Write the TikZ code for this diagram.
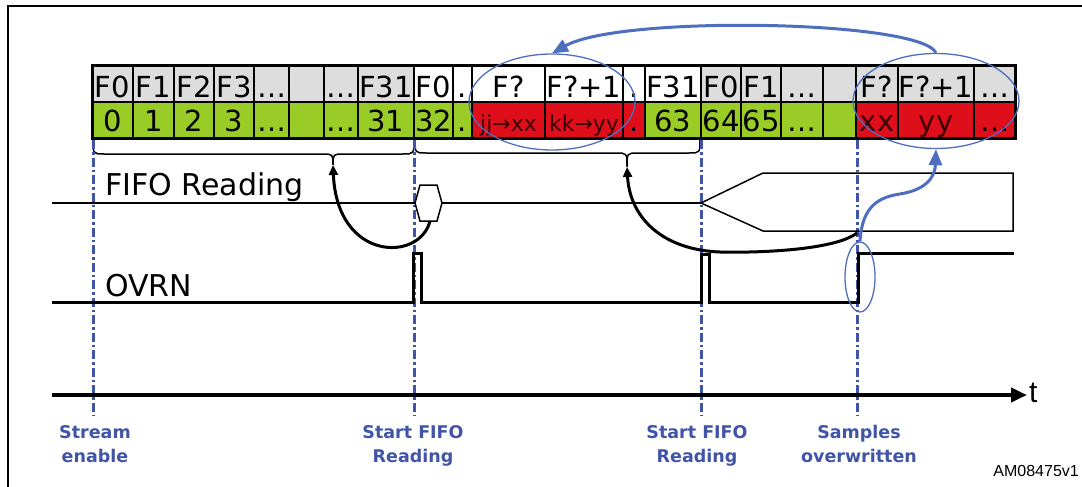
\documentclass[tikz,border=0pt]{standalone}
\usepackage{fontspec}
\setmainfont{DejaVu Sans}
\newfontfamily\arialfont{Liberation Sans}
\usepackage{tikz}
\usetikzlibrary{shapes.geometric,arrows.meta}
\definecolor{cgrey}{RGB}{221,221,221}
\definecolor{cgreen}{RGB}{154,204,40}
\definecolor{cred}{RGB}{222,14,26}
\definecolor{mkblue}{RGB}{64,84,168}
\definecolor{ovblue}{RGB}{78,110,192}
\definecolor{redtxt}{RGB}{60,0,0}
\newcommand\redsmall{\color{redtxt}\fontsize{22}{22}\selectfont}

\begin{document}
\begin{tikzpicture}[x=1pt,y=-1pt,
	cellfont/.style={font=\fontsize{29}{29}\selectfont, inner sep=0pt, anchor=base},
	sigfont/.style={font=\fontsize{30}{30}\selectfont, inner sep=0pt, anchor=base west},
	markline/.style={mkblue, line width=3pt, dash pattern=on 9pt off 3pt on 2.5pt off 3pt},
	evtlabel/.style={mkblue, font=\bfseries\fontsize{17.5}{24}\selectfont, align=center, anchor=north, inner sep=0pt},
	bluering/.style={draw=ovblue, line width=1.3pt, ellipse, inner sep=0pt}]
			\useasboundingbox (0,0) rectangle (1082,487);
			% frame
			\draw[line width=2.5pt] (8,487) -- (8,6) -- (1082,6);
			% FIFO cells
			\foreach \xa/\xb/\cola/\txta/\colb/\txtb [count=\i] in {
				92/133/cgrey/F0/cgreen/0,
				133/174/cgrey/F1/cgreen/1,
				174/214/cgrey/F2/cgreen/2,
				214/254/cgrey/F3/cgreen/3,
				254/289/cgrey/…/cgreen/…,
				289/324/cgrey/{}/cgreen/{},
				324/358/cgrey/…/cgreen/…,
				358/414/cgrey/F31/cgreen/31,
				414/453/white/F0/cgreen/32,
				453/472/white/./cgreen/.,
				472/545/white/F?/cred/{\redsmall jj→xx},
				545/623/white/F?+1/cred/{\redsmall kk→yy},
				623/645/white/./cred/.,
				645/701/white/F31/cgreen/63,
				701/741/cgrey/F0/cgreen/64,
				741/781/cgrey/F1/cgreen/65,
				781/823/cgrey/…/cgreen/…,
				823/856/cgrey/{}/cgreen/{},
				856/898/cgrey/F?/cred/{\color{redtxt}xx},
				898/974/cgrey/F?+1/cred/{\color{redtxt}yy},
				974/1015/cgrey/…/cred/…}
			{
				\draw[fill=\cola, line width=1.5pt] (\xa,66) rectangle (\xb,102);
				\draw[fill=\colb, line width=1.5pt] (\xa,102) rectangle (\xb,138);
				\node[cellfont] (top\i) at ({(\xa+\xb)/2},97) {\txta};
				\node[cellfont] (bot\i) at ({(\xa+\xb)/2},131) {\txtb};
			}
			\draw[line width=3pt] (92,66) rectangle (1015,138);
			% braces
			\coordinate (tipA) at (333,165);
			\coordinate (tipB) at (627,167);
			\draw[line width=1.5pt] (93,139) .. controls (93,154) .. (104,154) -- (322,154) .. controls (333,154) .. (tipA) .. controls (333,154) .. (344,154) -- (403,154) .. controls (414,154) .. (414,139);
			\draw[line width=1.5pt] (415,139) .. controls (415,153) .. (426,153) -- (616,153) .. controls (627,153) .. (tipB) .. controls (627,153) .. (638,153) -- (689,153) .. controls (700,153) .. (700,139);
			% event markers
			\draw[markline] (93,140) -- (93,416);
			\draw[markline] (414,140) -- (414,416);
			\draw[markline] (701,140) -- (701,416);
			\draw[markline] (857,140) -- (857,416);
			\node[evtlabel] (evStream) at (95,425) {Stream\\enable};
			\node[evtlabel] (evReadA) at (413,425) {Start FIFO\\Reading};
			\node[evtlabel] (evReadB) at (697,425) {Start FIFO\\Reading};
			\node[evtlabel] (evOver) at (859,425) {Samples\\overwritten};
			% FIFO Reading signal
			\node[sigfont] (lblFifo) at (105,195) {FIFO Reading};
			\coordinate (hexL) at (415,203);
			\coordinate (hexR) at (442,203);
			\coordinate (hexB) at (430,221);
			\coordinate (busS) at (701,203);
			\draw[line width=2.5pt] (52,203) -- (hexL);
			\draw[line width=1.5pt, fill=white] (hexL) -- (420,185) -- (437,185) -- (hexR) -- (437,221) -- (420,221) -- cycle;
			\draw[line width=2.5pt] (hexR) -- (busS);
			\draw[line width=1.5pt] (busS) -- (763,173) -- (1013,173) -- (1013,231) -- (763,231) -- cycle;
			% OVRN signal
			\node[sigfont] (lblOvrn) at (105,296) {OVRN};
			\draw[line width=3pt] (52,302) -- (413,302) -- (413,253) -- (421,253) -- (421,302) -- (701,302) -- (701,254) -- (709,254) -- (709,302) -- (858,302) -- (858,253) -- (1014,253);
			% overwritten samples
			\node[bluering, minimum width=166pt, minimum height=96pt] (ovA) at (552,102) {};
			\node[bluering, minimum width=166pt, minimum height=95pt] (ovB) at (936,101) {};
			\node[bluering, minimum width=30pt, minimum height=70pt] (ovC) at (860,277) {};
			\draw[ovblue, line width=3pt, -{Triangle[length=16pt,width=13pt]}] (ovB.north) .. controls (920,20) and (620,15) .. (ovA.north);
			\draw[ovblue, line width=3pt, -{Triangle[length=16pt,width=13pt]}] (ovC.north) .. controls (862,205) and (880,197) .. (900,194) .. controls (925,190) and (935,178) .. (ovB.south);
			% reading arrows
			\coordinate (ovrStart) at (857,233);
			\draw[line width=3pt, -{Triangle[length=10pt,width=9pt]}] (hexB) .. controls (420,262) and (337,262) .. (tipA);
			\draw[line width=3pt, -{Triangle[length=10pt,width=9pt]}] (ovrStart) .. controls (835,250) and (760,253) .. (720,252) .. controls (665,250) and (630,220) .. (tipB);
			% time axis
			\coordinate (axisStart) at (52,395);
			\coordinate (axisEnd) at (1027,395);
			\draw[line width=4pt, -{Triangle[length=16pt,width=14pt]}] (axisStart) -- (axisEnd);
			\node[font=\arialfont\fontsize{30}{30}\selectfont, anchor=base west, inner sep=0pt] (lblT) at (1029,402) {t};
			\node[font=\arialfont\fontsize{16}{16}\selectfont, anchor=base east, inner sep=0pt] (lblId) at (1079,476) {AM08475v1};
\end{tikzpicture}
\end{document}
